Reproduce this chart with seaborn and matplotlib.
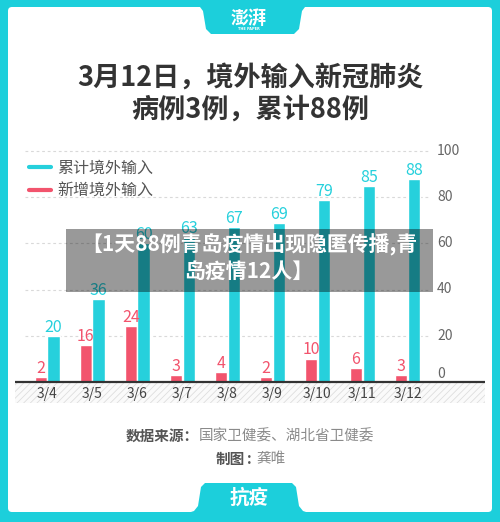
import matplotlib
matplotlib.use("Agg")
import matplotlib.pyplot as plt
import matplotlib.transforms as mtrans
import pandas as pd
import seaborn as sns
from matplotlib.lines import Line2D
from matplotlib.patches import FancyBboxPatch, Polygon, Rectangle

# data
dates = ["3/4", "3/5", "3/6", "3/7", "3/8", "3/9", "3/10", "3/11", "3/12"]
new_cases = [2, 16, 24, 3, 4, 2, 10, 6, 3]
total_cases = [20, 36, 60, 63, 67, 69, 79, 85, 88]
series_names = ["新增境外输入", "累计境外输入"]
legend_order = ["累计境外输入", "新增境外输入"]
y_ticks = [0, 20, 40, 60, 80, 100]

TEAL = "#1ccfdb"
BAR_TEAL = "#26d0dc"
RED = "#f2546d"

sns.set_style("white")
plt.rcParams["font.family"] = ["Noto Sans CJK SC", "DejaVu Sans"]
plt.rcParams["hatch.linewidth"] = 0.6

df = pd.DataFrame({
    "date": dates * 2,
    "series": [series_names[0]] * len(dates) + [series_names[1]] * len(dates),
    "value": new_cases + total_cases,
})

W, H = 500, 522
fig = plt.figure(figsize=(W / 100, H / 100), dpi=100, facecolor=TEAL)

# background layer in pixel coordinates
bg = fig.add_axes([0, 0, 1, 1], zorder=-1)
bg.set_xlim(0, W)
bg.set_ylim(H, 0)
bg.axis("off")
bg.add_patch(FancyBboxPatch((8, 7), 484, 505, boxstyle="round,pad=0,rounding_size=4",
                            fc="white", ec="none"))
bg.add_patch(Polygon([(194, 6), (200, 7), (203, 11), (206, 29), (211, 34), (294, 34),
                      (299, 29), (302, 11), (305, 7), (311, 6)], closed=True, fc=TEAL, ec="none"))
bg.add_patch(Polygon([(188, 513), (194, 511), (198, 506), (201, 487), (205, 483), (292, 483),
                      (296, 487), (299, 506), (303, 511), (309, 513)], closed=True, fc=TEAL, ec="none"))
bg.text(249, 18, "澎湃", ha="center", va="center", color="white", fontsize=13, weight="bold")
bg.text(249, 29.5, "THE PAPER", ha="center", va="center", color="white", fontsize=2.5,
        weight="bold", family="DejaVu Sans")
bg.text(249, 498, "抗疫", ha="center", va="center", color="white", fontsize=14, weight="bold")

bg.text(250, 77.5, "3月12日，境外输入新冠肺炎", ha="center", va="center",
        fontsize=19.5, weight="bold", color="#333333")
bg.text(250, 110, "病例3例，累计88例", ha="center", va="center",
        fontsize=19.5, weight="bold", color="#333333")

# hatched strip under the axis
bg.add_patch(Rectangle((15, 381.5), 470, 21, fc="#fafafa", ec="#dedede", hatch="/////", lw=0))

# footer
bg.text(199, 436, "数据来源：", ha="right", va="center", fontsize=10.5, weight="bold", color="#555555")
bg.text(199, 436, "国家卫健委、湖北省卫健委", ha="left", va="center", fontsize=10.5, color="#8a8a8a")
bg.text(245, 459, "制图", ha="right", va="center", fontsize=10.5, weight="bold", color="#555555")
bg.text(249.5, 459, ":", ha="center", va="center", fontsize=10.5, weight="bold", color="#555555")
bg.text(256, 459, "龚唯", ha="left", va="center", fontsize=10.5, color="#8a8a8a")

# legend
handles = [Line2D([], [], color=BAR_TEAL, lw=3), Line2D([], [], color=RED, lw=3)]
bg.legend(handles, legend_order, loc="upper left", bbox_to_anchor=(29, 160),
          bbox_transform=bg.transData, frameon=False, fontsize=11.5, handlelength=1.4,
          handletextpad=0.35, labelspacing=0.35, borderpad=0, borderaxespad=0,
          labelcolor="#555555")

# chart
ax = fig.add_axes([25 / W, 1 - 381.5 / H, 405 / W, 241.5 / H])
ax.patch.set_alpha(0)
sns.barplot(data=df, x="date", y="value", hue="series", hue_order=series_names,
            palette=[RED, BAR_TEAL], width=0.57, gap=0.05, saturation=1,
            legend=False, ax=ax)
ax.set_xlim(-0.49, 8.5)
ax.set_ylim(0, 105)
ax.set_yticks(y_ticks)
ax.yaxis.grid(True, color="#d9d9d9", linestyle=(0, (2.5, 2.5)), lw=0.8)
ax.set_axisbelow(True)
ax.tick_params(axis="y", length=0, labelleft=False)
ax.tick_params(axis="x", length=0, pad=4, labelsize=10, labelcolor="#444444")
ax.set_xlabel("")
ax.set_ylabel("")
sns.despine(ax=ax, left=True, bottom=True)

for container, color in zip(ax.containers, [RED, BAR_TEAL]):
    ax.bar_label(container, color=color, fontsize=11.5, padding=0)

ytrans = mtrans.blended_transform_factory(bg.transData, ax.transData)
for t in y_ticks:
    ax.text(437, t, str(t), transform=ytrans, ha="left", va="bottom" if t == 0 else "center",
            fontsize=10, color="#666666")

# overlay: baseline and grey banner
top = fig.add_axes([0, 0, 1, 1], zorder=5)
top.set_xlim(0, W)
top.set_ylim(H, 0)
top.axis("off")
top.plot([15, 485], [381.5, 381.5], color="#333333", lw=1.6, solid_capstyle="butt")
top.add_patch(Rectangle((66, 229), 367, 63, fc="black", alpha=0.4, lw=0))
top.text(249, 258, "【1天88例青岛疫情出现隐匿传播,青\n岛疫情12人】", ha="center", va="center",
         color="white", fontsize=15, weight="bold", linespacing=1.3)

fig.savefig("out.png", dpi=100, facecolor=TEAL)
